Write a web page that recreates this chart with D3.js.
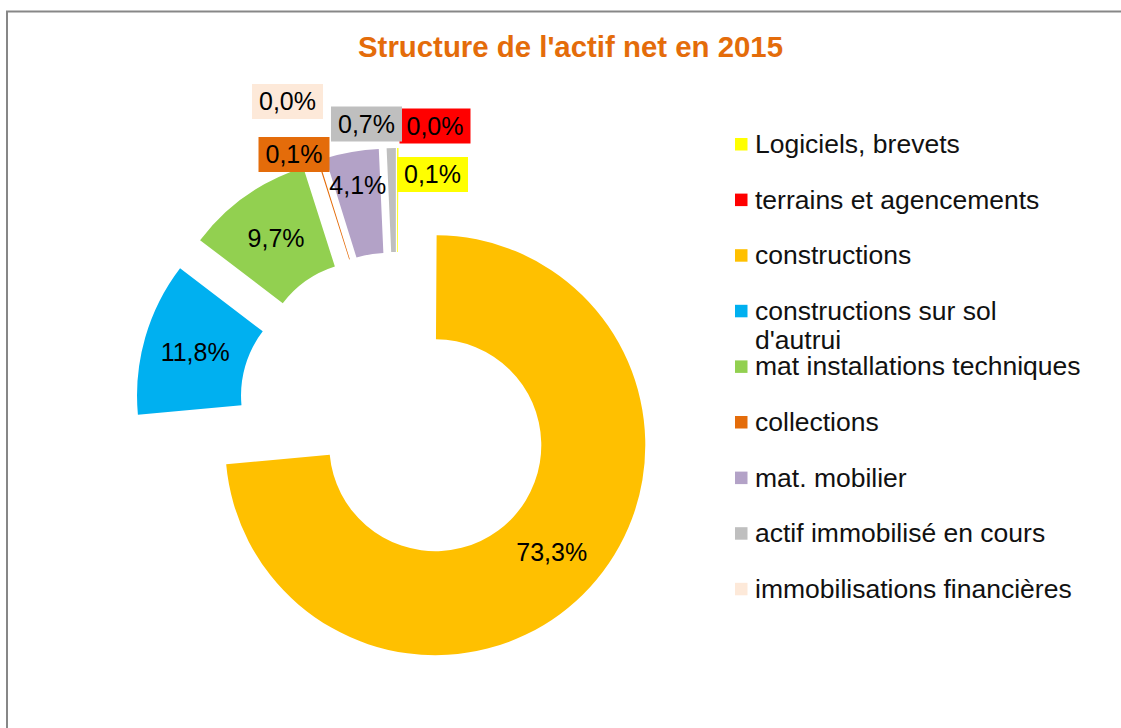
<!DOCTYPE html>
<html>
<head>
<meta charset="utf-8">
<script src="https://cdn.jsdelivr.net/npm/d3@7"></script>
<style>
  body { margin: 0; background: #fff; overflow: hidden; }
  text { font-family: "Liberation Sans", Arial, sans-serif; }
</style>
</head>
<body>
<div id="chart"></div>
<script>

// 1. Data (shares of net assets, %)
const categories = [
  "Logiciels, brevets",
  "terrains et agencements",
  "constructions",
  "constructions sur sol\nd'autrui",
  "mat installations techniques",
  "collections",
  "mat. mobilier",
  "actif immobilisé en cours",
  "immobilisations financières",
]
const shares = [0.1, 0.0, 73.3, 11.8, 9.7, 0.1, 4.1, 0.7, 0.0]
const colors = [
  "#ffff00", "#ff0000", "#ffc000", "#00b0f0", "#92d050",
  "#e46c0a", "#b3a2c7", "#bfbfbf", "#fde9d9",
]
const title = "Structure de l'actif net en 2015"

// thin slices get boxed labels that Excel moved by hand (offset from pie centre)
const boxedLabels = {
  0: [35.5, -235.5],
  1: [38, -284],
  5: [-103, -255.5],
  7: [-30.5, -286],
  8: [-109.5, -308.5],
}
const labelNudge = { 6: [-3, -18] }

// 2. Dimensions
const dimensions = {
  width: 1121,
  height: 728,
  cx: 397,
  cy: 410,
  outer: 210,
  inner: 106,
  explode: 52,
  legendX: 735,
  legendY: 138,
  legendStep: 55.6,
}

// 3. Canvas
const svg = d3.select("#chart")
  .append("svg")
    .attr("width", dimensions.width)
    .attr("height", dimensions.height)
    .style("display", "block")

// chart frame: only its top and left edges fall inside the picture
svg.append("path")
    .attr("d", `M7,${dimensions.height} V11.5 H${dimensions.width}`)
    .attr("fill", "none")
    .attr("stroke", "#878787")
    .attr("stroke-width", 2)

svg.append("text")
    .attr("x", 570.5)
    .attr("y", 57)
    .attr("text-anchor", "middle")
    .attr("font-size", 29)
    .attr("font-weight", 700)
    .attr("fill", "#e46c0a")
    .attr("textLength", 425)
    .attr("lengthAdjust", "spacingAndGlyphs")
    .text(title)

// 4. Pie layout
const rows = categories.map((c, i) => ({ name: c, value: shares[i], color: colors[i], i }))

const pie = d3.pie()
    .sort(null)
    .value(d => d.value)
    .startAngle(0)
    .endAngle(2 * Math.PI)

const arcs = pie(rows)

const arc = d3.arc()
    .innerRadius(dimensions.inner)
    .outerRadius(dimensions.outer)

const offset = d => {
  const a = (d.startAngle + d.endAngle) / 2
  return [dimensions.explode * Math.sin(a), -dimensions.explode * Math.cos(a)]
}

const bounds = svg.append("g")
    .attr("transform", `translate(${dimensions.cx}, ${dimensions.cy})`)

const slices = bounds.selectAll(".slice")
  .data(arcs)
  .join("g")
    .attr("class", "slice")
    .attr("transform", d => `translate(${offset(d)})`)

slices.append("path")
    .attr("d", arc)
    .attr("fill", d => d.data.color)

// 5. Labels
const fmt = v => d3.format(".1f")(v).replace(".", ",") + "%"

slices.filter(d => !(d.data.i in boxedLabels))
  .append("text")
    .attr("transform", d => {
      const [x, y] = arc.centroid(d)
      const [nx, ny] = labelNudge[d.data.i] || [0, 0]
      return `translate(${x + nx}, ${y + ny})`
    })
    .attr("text-anchor", "middle")
    .attr("dy", "0.35em")
    .attr("font-size", 25)
    .attr("fill", "#000")
    .text(d => fmt(d.data.value))

const boxes = bounds.selectAll(".box-label")
  .data(arcs.filter(d => d.data.i in boxedLabels))
  .join("g")
    .attr("class", "box-label")
    .attr("transform", d => `translate(${boxedLabels[d.data.i]})`)

boxes.append("rect")
    .attr("fill", d => d.data.color)

boxes.append("text")
    .attr("text-anchor", "middle")
    .attr("dy", "0.35em")
    .attr("font-size", 25)
    .attr("fill", "#000")
    .text(d => fmt(d.data.value))

boxes.each(function() {
  const g = d3.select(this)
  const w = g.select("text").node().getComputedTextLength() + 14
  g.select("rect")
      .attr("x", -w / 2)
      .attr("y", -17.5)
      .attr("width", w)
      .attr("height", 35)
})

// 6. Legend
const legend = svg.append("g")
    .attr("transform", `translate(${dimensions.legendX}, ${dimensions.legendY})`)

const items = legend.selectAll(".item")
  .data(rows)
  .join("g")
    .attr("class", "item")
    .attr("transform", (d, i) => `translate(0, ${i * dimensions.legendStep})`)

items.append("rect")
    .attr("width", 12.5)
    .attr("height", 12.5)
    .attr("fill", d => d.color)

items.append("text")
    .attr("x", 20)
    .attr("y", 15)
    .attr("font-size", 26.5)
    .attr("fill", "#111")
  .selectAll("tspan")
  .data(d => d.name.split("\n"))
  .join("tspan")
    .attr("x", 20)
    .attr("dy", (d, i) => i ? 29 : 0)
    .text(d => d)

</script>
</body>
</html>
